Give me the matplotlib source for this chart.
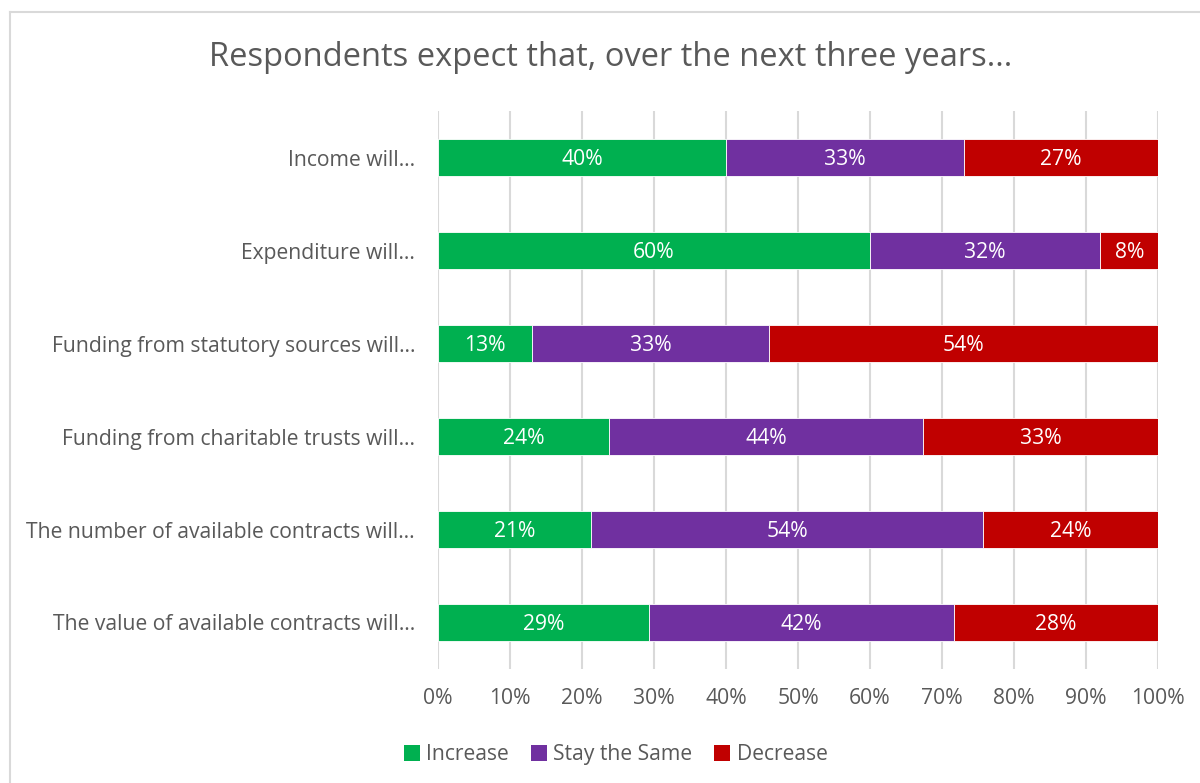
import matplotlib.pyplot as plt
from matplotlib.lines import Line2D
from matplotlib.patches import Patch
import numpy as np

plt.rcParams['font.family'] = ['Open Sans', 'DejaVu Sans']

categories = [
    "Income will…",
    "Expenditure will…",
    "Funding from statutory sources will…",
    "Funding from charitable trusts will…",
    "The number of available contracts will…",
    "The value of available contracts will…",
]
series_names = ["Increase", "Stay the Same", "Decrease"]
increase = [40, 60, 13, 24, 21, 29]
stay_same = [33, 32, 33, 44, 54, 42]
decrease = [27, 8, 54, 33, 24, 28]
x_ticks = [0, 10, 20, 30, 40, 50, 60, 70, 80, 90, 100]

colors = ["#00B050", "#7030A0", "#C00000"]
text_gray = "#595959"
grid_gray = "#D9D9D9"
fs = 15.2

fig = plt.figure(figsize=(12, 7.83), dpi=100)
ax = fig.add_axes([0.365, 0.1456, 0.6, 0.7126])

data = np.array([increase, stay_same, decrease], dtype=float)
totals = data.sum(axis=0)
shares = data / totals * 100  # 100% stacked

y = np.arange(len(categories))
left = np.zeros(len(categories))
for name, vals, raw, col in zip(series_names, shares, data, colors):
    ax.barh(y, vals, left=left, height=0.40, color=col, edgecolor="white",
            linewidth=0.6, label=name, zorder=3)
    for yi, lf, v, r in zip(y, left, vals, raw):
        ax.text(lf + v / 2, yi + 0.02, f"{int(r)}%", ha="center", va="center",
                color="white", fontsize=fs, zorder=4)
    left += vals

ax.set_ylim(len(categories) - 0.5, -0.5)
ax.set_xlim(0, 100)
ax.set_yticks(y)
ax.set_yticklabels(categories, fontsize=fs, color=text_gray)
ax.set_xticks(x_ticks)
ax.set_xticklabels([f"{t}%" for t in x_ticks], fontsize=fs, color=text_gray)
ax.tick_params(axis="both", length=0)
ax.tick_params(axis="y", pad=16.5)
ax.tick_params(axis="x", pad=14)
ax.grid(axis="x", color=grid_gray, linewidth=1.5, zorder=0)
for s in ax.spines.values():
    s.set_visible(False)

fig.suptitle("Respondents expect that, over the next three years...",
             x=0.509, y=0.927, fontsize=23.5, color=text_gray, va="center")

handles = [Patch(facecolor=c, edgecolor="none") for c in colors]
fig.legend(handles, series_names, loc="center", bbox_to_anchor=(0.513, 0.036),
           ncol=3, frameon=False, fontsize=fs, labelcolor=text_gray,
           handlelength=0.75, handleheight=0.75, handletextpad=0.3,
           columnspacing=1.05)

# chart frame
fig.add_artist(Line2D([10 / 1200, 1], [1 - 12 / 783, 1 - 12 / 783],
                      color=grid_gray, linewidth=1.5))
fig.add_artist(Line2D([10 / 1200, 10 / 1200], [0, 1 - 12 / 783],
                      color=grid_gray, linewidth=1.5))

fig.savefig("out.png", dpi=100, facecolor="white")
